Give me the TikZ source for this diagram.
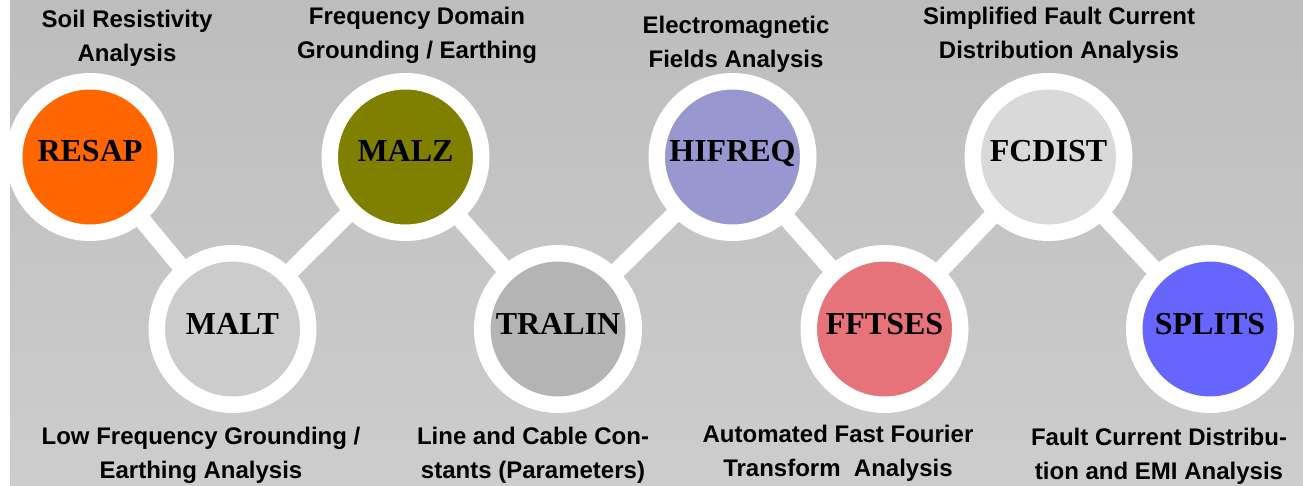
\documentclass[tikz,border=0pt]{standalone}
\usepackage{fontspec}
\setmainfont{Liberation Sans}
\newfontfamily\toolfont{Liberation Serif}
\usetikzlibrary{backgrounds}

\definecolor{bgtop}{RGB}{189,189,189}
\definecolor{bgbottom}{RGB}{205,205,205}
\definecolor{resapfill}{RGB}{255,102,0}
\definecolor{maltfill}{RGB}{204,204,204}
\definecolor{malzfill}{RGB}{128,128,0}
\definecolor{tralinfill}{RGB}{180,180,180}
\definecolor{hifreqfill}{RGB}{153,151,208}
\definecolor{fftsesfill}{RGB}{230,114,122}
\definecolor{fcdistfill}{RGB}{217,217,217}
\definecolor{splitsfill}{RGB}{102,102,255}

\begin{document}
\begin{tikzpicture}[
    x=1pt, y=-1pt,
    tool/.style={circle, draw=white, line width=16.5pt, minimum size=151.5pt, inner sep=0pt,
        font=\toolfont\bfseries\fontsize{32}{32}\selectfont, text height=21pt, text depth=11pt},
    desc/.style={align=center, font=\bfseries\fontsize{24}{34}\selectfont},
    link/.style={draw=white, line width=17pt}
]

\useasboundingbox (0,0) rectangle (1303,486);

% Programs
\node[tool, fill=resapfill] (resap) at (90,157) {RESAP};
\node[tool, fill=maltfill] (malt) at (232.5,329) {MALT};
\node[tool, fill=malzfill] (malz) at (405.5,157) {MALZ};
\node[tool, fill=tralinfill] (tralin) at (558,329) {TRALIN};
\node[tool, fill=hifreqfill] (hifreq) at (732.5,157) {HIFREQ};
\node[tool, fill=fftsesfill] (fftses) at (884.5,329) {FFTSES};
\node[tool, fill=fcdistfill] (fcdist) at (1048.5,157) {FCDIST};
\node[tool, fill=splitsfill] (splits) at (1210,329) {SPLITS};

% Descriptions
\node[desc] (resapdesc) at (127,38) {Soil Resistivity\\Analysis};
\node[desc] (malzdesc) at (417,35.5) {Frequency Domain\\Grounding / Earthing};
\node[desc] (hifreqdesc) at (736,44) {Electromagnetic\\Fields Analysis};
\node[desc] (fcdistdesc) at (1059,35.5) {Simplified Fault Current\\Distribution Analysis};
\node[desc] (maltdesc) at (201,455.5) {Low Frequency Grounding /\\Earthing Analysis};
\node[desc] (tralindesc) at (533,455) {Line and Cable Con-\\stants (Parameters)};
\node[desc] (fftsesdesc) at (838,453) {Automated Fast Fourier\\Transform\ \ Analysis};
\node[desc] (splitsdesc) at (1159,456.5) {Fault Current Distribu-\\tion and EMI Analysis};

% Background and links
\begin{scope}[on background layer]
\fill[white] (0,0) rectangle (1303,486);
\shade[top color=bgtop, bottom color=bgbottom] (10,0) rectangle (1303,486);
\draw[link] (resap.center) -- (malt.center) -- (malz.center) -- (tralin.center)
    -- (hifreq.center) -- (fftses.center) -- (fcdist.center) -- (splits.center);
\end{scope}

\end{tikzpicture}
\end{document}
